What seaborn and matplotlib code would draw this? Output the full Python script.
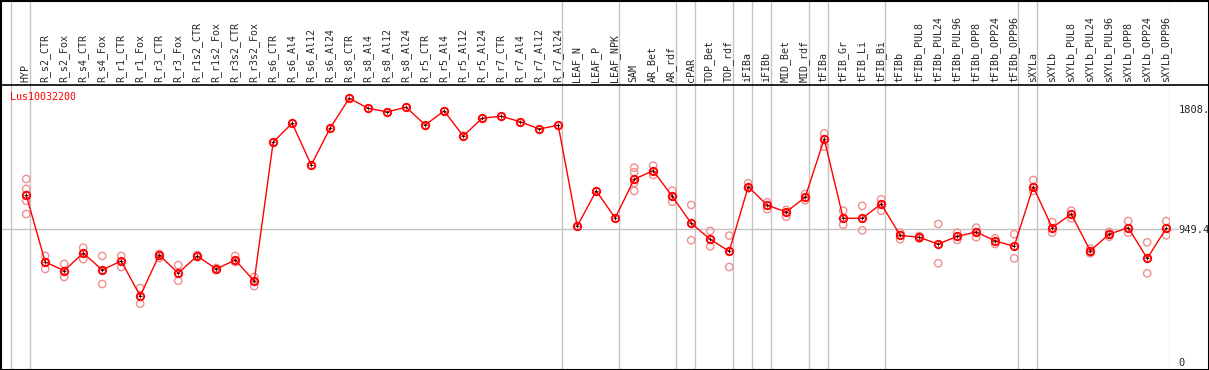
import numpy as np
import pandas as pd
import matplotlib
matplotlib.use('Agg')
import matplotlib.pyplot as plt
from matplotlib.patches import Rectangle
from matplotlib.lines import Line2D
import seaborn as sns

# Datos
gene = 'Lus10032200'

samples = ['HYP',
           'R_s2_CTR', 'R_s2_Fox', 'R_s4_CTR', 'R_s4_Fox', 'R_r1_CTR', 'R_r1_Fox',
           'R_r3_CTR', 'R_r3_Fox', 'R_r1s2_CTR', 'R_r1s2_Fox', 'R_r3s2_CTR', 'R_r3s2_Fox',
           'R_s6_CTR', 'R_s6_Al4', 'R_s6_Al12', 'R_s6_Al24',
           'R_s8_CTR', 'R_s8_Al4', 'R_s8_Al12', 'R_s8_Al24',
           'R_r5_CTR', 'R_r5_Al4', 'R_r5_Al12', 'R_r5_Al24',
           'R_r7_CTR', 'R_r7_Al4', 'R_r7_Al12', 'R_r7_Al24',
           'LEAF_N', 'LEAF_P', 'LEAF_NPK',
           'SAM', 'AR_Bet', 'AR_rdf', 'cPAR', 'TOP_Bet', 'TOP_rdf',
           'iFIBa', 'iFIBb', 'MID_Bet', 'MID_rdf', 'tFIBa',
           'tFIB_Gr', 'tFIB_Li', 'tFIB_Bi',
           'tFIBb', 'tFIBb_PUL8', 'tFIBb_PUL24', 'tFIBb_PUL96',
           'tFIBb_OPP8', 'tFIBb_OPP24', 'tFIBb_OPP96',
           'sXYLa', 'sXYLb', 'sXYLb_PUL8', 'sXYLb_PUL24', 'sXYLb_PUL96',
           'sXYLb_OPP8', 'sXYLb_OPP24', 'sXYLb_OPP96']

means = [1192,
         714, 652, 778, 657, 721, 471,
         764, 635, 757, 664, 728, 578,
         1570, 1704, 1406, 1670,
         1882, 1811, 1785, 1818,
         1692, 1792, 1613, 1740,
         1754, 1715, 1663, 1690,
         969, 1221, 1028,
         1304, 1366, 1183, 990, 876, 790,
         1251, 1119, 1071, 1176, 1592,
         1026, 1026, 1128,
         904, 890, 842, 897,
         928, 864, 826,
         1251, 959, 1056, 794, 912,
         959, 740, 954]

replicates = [[1306, 1235, 1151, 1056],
              [757, 664], [700, 607], [816, 735], [757, 557], [757, 678], [528, 416],
              [771, 742], [692, 580], [764, 749], [671, 657], [757, 714], [607, 542],
              [], [], [], [],
              [], [], [], [],
              [], [], [], [],
              [], [], [], [],
              [], [], [],
              [1387, 1354, 1278, 1221], [1401, 1335], [1223, 1144], [1121, 869], [935, 826], [902, 678],
              [1276, 1240], [1140, 1090], [1085, 1037], [1199, 1154], [1632, 1537],
              [1080, 980], [1114, 940], [1161, 1080],
              [923, 876], [899, 881], [985, 705], [923, 871],
              [959, 890], [883, 842], [912, 740],
              [1299, 1221], [999, 923], [1080, 1026], [809, 776], [928, 894],
              [1006, 923], [854, 633], [1006, 904]]

group_edges = [0, 1, 29, 32, 35, 36, 38, 39, 40, 42, 43, 46, 53, 54, 61]
y_ticks = [0, 949.4, 1808]
y_tick_labels = ['0', '949.4', '1808.']

# Tablas
pos = np.arange(len(samples)) + 0.8
df = pd.DataFrame({'x': pos, 'valor': means})
rep_x, rep_y = [], []
for p, r in zip(pos, replicates):
    rep_x += [p] * len(r)
    rep_y += r
df_rep = pd.DataFrame({'x': rep_x, 'valor': rep_y})

sns.set_theme(style='white')
plt.rcParams['font.family'] = ['DejaVu Sans Mono', 'DejaVu Sans']

W, H = 1209, 370
fig = plt.figure(figsize=(W / 100, H / 100), dpi=100)
ax = fig.add_axes([0, 0, 1170 / W, 285 / H])
hd = fig.add_axes([0, 285 / H, 1170 / W, 85 / H])

xlim = (-11 / 19, 61)
grid_c = '#c4c4c4'

# Grafico principal
sns.scatterplot(data=df_rep, x='x', y='valor', ax=ax, marker='o', s=28,
                facecolor='none', edgecolor='#ef8f8f', linewidth=1.0, zorder=2)
sns.lineplot(data=df, x='x', y='valor', ax=ax, color='red', lw=1.0,
             marker='o', markersize=5.3, markerfacecolor='none',
             markeredgecolor='red', markeredgewidth=1.4, zorder=3)
ax.plot(df['x'], df['valor'], ls='none', marker='+', markersize=2.5,
        color='#300000', mew=0.6, zorder=4)

ax.axhline(949.4, xmin=0, xmax=1178 / 1170, color=grid_c, lw=1, zorder=1, clip_on=False)
for e in group_edges:
    ax.axvline(e, color=grid_c, lw=1, zorder=1)
    hd.axvline(e, color=grid_c, lw=1, zorder=1)

ax.set_xlim(*xlim)
ax.set_ylim(-57, 1977)
ax.set_xticks([])
ax.yaxis.tick_right()
ax.set_yticks(y_ticks)
ax.set_yticklabels(y_tick_labels, fontsize=7.5)
ax.tick_params(axis='y', length=0, pad=6)
ax.set_xlabel('')
ax.set_ylabel('')
for s in ax.spines.values():
    s.set_visible(False)

ax.text(10 / 1170, (370 - 97) / 285, gene, transform=ax.transAxes,
        color='red', fontsize=7.2, va='center', ha='left')

# Cabecera con nombres de muestras
hd.set_xlim(*xlim)
hd.set_ylim(0, 1)
hd.axis('off')
for p, name in zip(pos, samples):
    hd.text(p - 0.03, 0.03, name, rotation=90, ha='center', va='bottom', fontsize=7.2)

# Bordes
fig.add_artist(Line2D([0, 1], [285 / H, 285 / H], transform=fig.transFigure,
                      color='black', lw=1.2))
fig.add_artist(Rectangle((1 / W, 0.5 / H), (W - 1.5) / W, (H - 1.2) / H,
                         transform=fig.transFigure, fill=False,
                         edgecolor='black', lw=1.5))

fig.savefig('out.png', dpi=100)
